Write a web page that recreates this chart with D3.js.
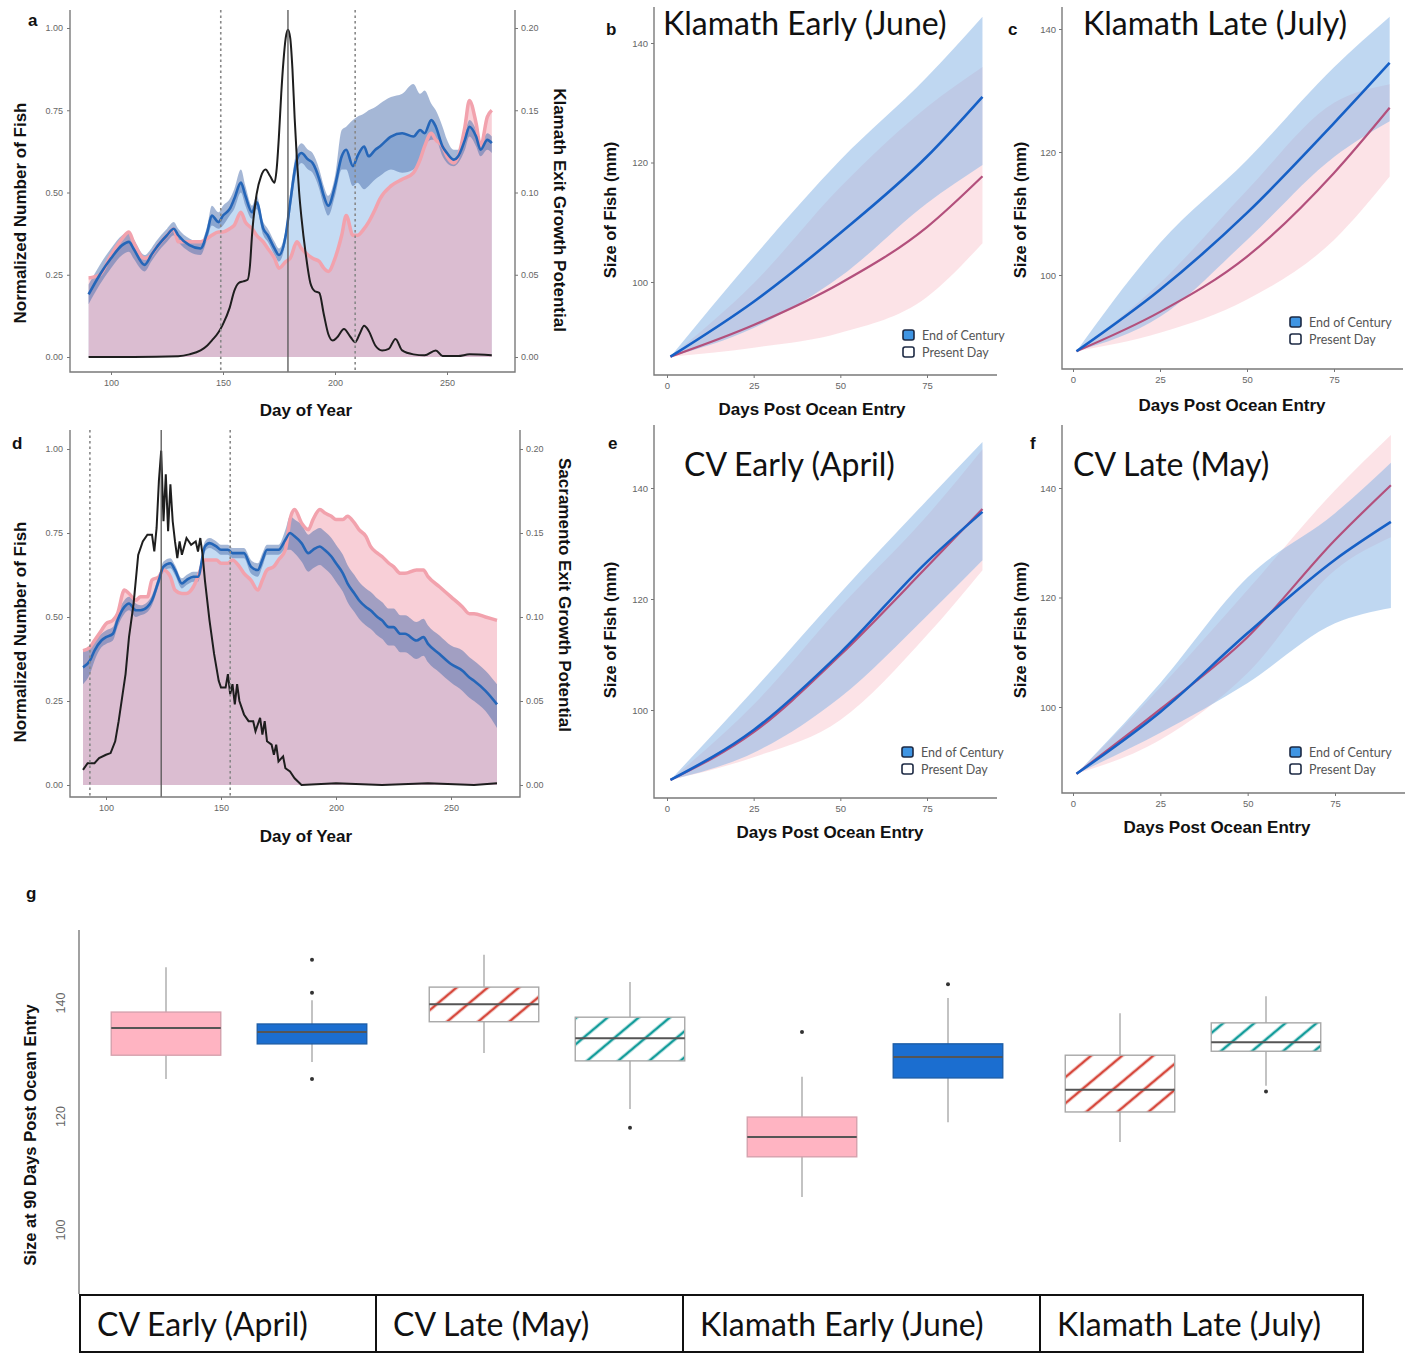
<!DOCTYPE html>
<html>
<head>
<meta charset="utf-8">
<script src="https://d3js.org/d3.v7.min.js"></script>
<style>
  body { margin: 0; background: #fff; }
  svg { display: block; }
  .tick text { fill: #666; font-family: "Liberation Sans", Arial, sans-serif; }
  .tick line { stroke: #777; }
</style>
</head>
<body>
<svg id="fig" width="1419" height="1353"></svg>
<script>
// ---------- panel a : Klamath, day of year ----------
var aDays = [90,95,100,105,108,110,115,118,120,125,128,130,135,140,143,145,148,150,153,155,158,160,163,165,168,170,173,175,178,180,183,185,188,190,193,195,197,200,203,205,208,210,213,215,218,220,225,230,235,238,240,243,245,248,250,253,255,258,260,263,265,268,270];
var aPresent = [.24,.25,.31,.36,.38, .35,.30,.31,.33,.37, .39,.35,.35,.35,.36, .37,.38,.38,.39,.40, .44,.41,.39,.37,.35, .33,.30,.27,.29,.30, .35,.33,.31,.30,.29, .27,.26,.30,.37,.43, .37,.37,.39,.41,.45, .48,.52,.54,.56,.60, .64,.68,.66,.64,.61, .59,.61,.70,.78,.71, .64,.73,.75];
var aEoc = [.19,.25,.30,.34,.35, .33,.28,.31,.33,.37, .39,.37,.34,.33,.38, .43,.41,.43,.45,.48, .53,.49,.44,.47,.39, .37,.33,.31,.37,.47, .60,.62,.60,.59,.54, .49,.46,.52,.61,.63, .58,.61,.64,.61,.63, .64,.67,.68,.67,.69, .68,.72,.70,.64,.62, .60,.61,.66,.70,.67, .63,.66,.65];
var aEocLo = [.16,.22,.27,.31,.32, .30,.26,.29,.31,.35, .37,.35,.32,.31,.36, .40,.39,.40,.43,.45, .50,.46,.42,.45,.37, .35,.31,.29,.35,.44, .57,.59,.57,.56,.51, .46,.43,.49,.57,.57, .52,.53,.51,.52,.54, .55,.57,.56,.57,.60, .64,.66,.66,.61,.59, .58,.59,.63,.67,.64, .61,.63,.62];
var aEocHi = [.22,.28,.33,.37,.38, .36,.31,.33,.35,.39, .41,.39,.36,.35,.40, .46,.44,.46,.48,.51, .57,.52,.46,.49,.41, .39,.35,.33,.39,.50, .63,.65,.63,.62,.57, .52,.49,.55,.69,.70, .72,.73,.74,.75,.76, .77,.79,.80,.83,.80, .81,.77,.75,.70,.66, .63,.63,.68,.72,.69, .65,.68,.67];
var aGrowthDays = [90,110,130,135,140,143,145,148,150,153,155,157,159,161,162,163,165,167,169,171,173,174,175,176,177,178,179,180,181,182,183,184,185,187,189,191,193,195,197,199,201,204,207,209,211,213,215,218,221,224,227,230,235,240,245,248,255,260,270];
var aGrowth = [0,0,0.0005,0.0016,0.004, 0.007,0.010,0.015,0.020,0.030, 0.040,0.045,0.046,0.047,0.055, 0.075,0.099,0.110,0.114,0.110, 0.106,0.115,0.135,0.160,0.180, 0.194,0.199,0.194,0.175,0.145, 0.120,0.100,0.085,0.062,0.045, 0.040,0.039,0.026,0.014,0.010, 0.012,0.017,0.012,0.009,0.014, 0.019,0.016,0.007,0.004,0.005, 0.011,0.004,0.0016,0.001,0.004, 0.0006,0.0006,0.0016,0.001];
var aMarks = [149, 179, 209];

// ---------- panel d : Sacramento, day of year ----------
var dDays = [90,93,95,98,100,103,105,108,110,113,115,118,120,123,125,128,130,133,135,138,140,143,145,148,150,153,155,158,160,163,166,168,170,173,175,178,180,182,185,188,190,193,195,198,200,203,205,208,210,213,215,218,220,223,225,228,230,235,238,240,245,250,255,258,260,265,270];
var dPresent = [.40,.41,.43,.46,.48, .49,.51,.58,.57,.55, .56,.56,.61,.62,.64, .62,.58,.57,.57,.59, .62,.67,.67,.67,.66, .66,.67,.65,.63,.61, .58,.61,.64,.65,.67, .70,.79,.82,.78,.76, .79,.82,.81,.80,.79, .79,.80,.78,.76,.74, .71,.69,.68,.66,.65, .63,.63,.64,.64,.62, .59,.56,.53,.51,.51, .50,.49];
var dEoc = [.35,.37,.40,.43,.44, .45,.49,.53,.54,.52, .52,.53,.55,.61,.65, .66,.64,.60,.61,.62, .62,.71,.72,.71,.70, .70,.69,.69,.69,.65, .64,.67,.70,.70,.70, .73,.75,.74,.72,.69, .70,.71,.70,.68,.66, .63,.60,.57,.55,.53, .52,.50,.49,.47,.47, .45,.45,.43,.44,.42, .39,.36,.34,.32,.31, .28,.24];
var dEocLo = [.30,.33,.37,.41,.42, .43,.47,.51,.52,.50, .505,.515,.535,.595,.635, .645,.625,.585,.595,.605, .605,.695,.705,.695,.685, .685,.675,.675,.675,.63, .62,.65,.685,.685,.685, .70,.70,.69,.665,.635, .645,.655,.645,.625,.605, .575,.545,.515,.495,.475, .465,.445,.435,.415,.415, .395,.395,.375,.385,.365, .335,.305,.28,.26,.25, .22,.17];
var dEocHi = [.40,.41,.43,.45,.46, .47,.51,.55,.56,.54, .535,.545,.565,.625,.665, .675,.655,.615,.625,.635, .635,.725,.735,.725,.715, .715,.705,.705,.705,.67, .66,.69,.715,.715,.715, .76,.80,.79,.775,.745, .755,.765,.755,.735,.715, .685,.655,.625,.605,.585, .575,.555,.545,.525,.525, .505,.505,.485,.495,.475, .445,.415,.40,.38,.37, .34,.30];
var dGrowthDays = [90,92,95,97,100,102,104,105.5,107,108.5,110,112,114,116,118,120,121,122,123,124,125,126,127,128,129,130,131,132,133,135,137,139,140,141,142,143,145,147,149,150,152,153,154,155,156,157,158,160,162,164,165,167,168,169,170,172,173,174,175,177,178,180,182,185,200,220,240,260,270];
var dGrowth = [0.009,0.013,0.013,0.016,0.018, 0.019,0.026,0.038,0.052,0.066, 0.088,0.108,0.137,0.145,0.149, 0.149,0.139,0.153,0.181,0.199, 0.157,0.185,0.151,0.179,0.157, 0.145,0.135,0.145,0.137,0.147, 0.143,0.145,0.139,0.147,0.137, 0.122,0.098,0.078,0.062,0.058, 0.058,0.066,0.054,0.060,0.048, 0.060,0.050,0.042,0.038,0.038, 0.032,0.040,0.030,0.038,0.026, 0.024,0.018,0.024,0.014,0.017, 0.010,0.008,0.004,0.000,0.001, 0.000,0.001,0.000,0.001];
var dMarks = [93, 124, 154];

// ---------- panels b, c, e, f : size after ocean entry ----------
var sizeDays = [1, 25, 50, 75, 91];
var bEoc = [87.5, 96.7, 108.2, 121.0, 131.0];
var bEocLo = [87.5, 92.3, 100.9, 113.2, 119.6];
var bEocHi = [87.5, 104.2, 120.4, 134.3, 144.4];
var bPres = [87.5, 92.8, 99.8, 109.2, 117.7];
var bPresLo = [87.5, 89.0, 91.5, 97.5, 106.5];
var bPresHi = [87.5, 99.8, 115.9, 129.3, 136.0];

var cEoc = [87.6, 97.6, 110.1, 124.7, 134.5];
var cEocLo = [87.6, 93.2, 105.7, 119.2, 125.0];
var cEocHi = [87.6, 105.2, 118.7, 133.8, 142.0];
var cPres = [87.6, 94.0, 103.0, 116.6, 127.2];
var cPresLo = [87.6, 90.6, 96.0, 105.7, 116.0];
var cPresHi = [87.6, 98.7, 113.8, 128.0, 131.0];

var eEoc = [87.4, 96.4, 110.3, 126.7, 135.7];
var eEocLo = [87.4, 92.3, 102.3, 117.0, 127.0];
var eEocHi = [87.4, 103.6, 121.1, 137.8, 148.3];
var ePres = [87.4, 96.0, 109.9, 125.8, 136.2];
var ePresLo = [87.4, 91.5, 98.2, 113.5, 125.2];
var ePresHi = [87.4, 101.0, 118.6, 135.0, 147.0];

var fEoc = [87.8, 99.1, 113.5, 126.9, 133.8];
var fEocLo = [87.8, 95.3, 104.4, 115.3, 118.1];
var fEocHi = [87.8, 104.4, 123.7, 135.4, 144.6];
var fPres = [87.8, 99.6, 112.8, 130.5, 140.5];
var fPresLo = [87.8, 94.0, 106.2, 125.0, 131.0];
var fPresHi = [87.8, 103.6, 121.4, 139.6, 149.7];

var legendLabels = ["End of Century", "Present Day"];

// ---------- panel g : size at 90 days ----------
var boxGroups = ["CV Early (April)", "CV Late (May)", "Klamath Early (June)", "Klamath Late (July)"];
var boxScenarios = ["Present Day", "End of Century"];
var boxLow  = [126.6, 129.6, 131.2, 121.3, 105.8, 119.0, 115.5, 125.4];
var boxQ1   = [130.8, 132.8, 136.7, 129.8, 112.9, 126.8, 120.8, 131.5];
var boxMed  = [135.6, 134.9, 139.8, 133.8, 116.4, 130.5, 124.7, 133.1];
var boxQ3   = [138.4, 136.3, 142.8, 137.5, 119.9, 132.8, 130.8, 136.5];
var boxHigh = [146.3, 140.5, 148.5, 143.7, 127.0, 140.9, 138.2, 141.2];
var boxOut  = [[], [147.6, 141.8, 126.6], [], [118.0], [134.9], [143.3], [], [124.4]];

var svg = d3.select("#fig");
var defs = svg.append("defs");
var BOLD = "'Liberation Sans', Arial, sans-serif";
var TITLE = "Lato, 'Open Sans', sans-serif";

function hatch(id, color) {
  var p = defs.append("pattern").attr("id", id)
    .attr("patternUnits", "userSpaceOnUse")
    .attr("width", 20).attr("height", 20)
    .attr("patternTransform", "rotate(-40)");
  p.append("rect").attr("width", 20).attr("height", 20).attr("fill", "#fff");
  p.append("line").attr("x1", 0).attr("x2", 20).attr("y1", 10).attr("y2", 10)
    .attr("stroke", color).attr("stroke-width", 2.6);
}
hatch("hRed", "#d6483c");
hatch("hTeal", "#139c9a");

function text(x, y, s, size, opts) {
  opts = opts || {};
  var t = svg.append("text").attr("x", x).attr("y", y).text(s)
    .attr("font-size", size)
    .attr("font-family", opts.family || BOLD)
    .attr("font-weight", opts.weight || "bold")
    .attr("fill", opts.fill || "#111")
    .attr("text-anchor", opts.anchor || "start");
  if (opts.rotate) {
    t.attr("x", 0).attr("y", 0)
      .attr("text-anchor", "middle")
      .attr("dominant-baseline", "middle")
      .attr("transform", "translate(" + x + "," + y + ") rotate(" + opts.rotate + ")");
  }
  return t;
}

function styleAxis(sel, size) {
  sel.select(".domain").remove();
  sel.selectAll(".tick text").attr("font-size", size);
}

// ---------- day-of-year panels ----------
function timePanel(o) {
  var g = svg.append("g");
  var x = d3.scaleLinear().domain([100, 250]).range([o.x100, o.x250]);
  var y = d3.scaleLinear().domain([0, 1]).range([o.y0, o.y1]);
  var y2 = d3.scaleLinear().domain([0, 0.2]).range([o.y0, o.y1]);
  var rows = o.days.map(function(d, i) {
    return { d: d, p: o.pres[i], e: o.eoc[i], lo: o.lo[i], hi: o.hi[i] };
  });
  var cv = d3.curveMonotoneX;
  function fillTo(k) {
    return d3.area().x(function(r) { return x(r.d); }).y0(y(0))
      .y1(function(r) { return y(r[k]); }).curve(cv);
  }
  function lineOf(k) {
    return d3.line().x(function(r) { return x(r.d); })
      .y(function(r) { return y(r[k]); }).curve(cv);
  }
  g.append("path").datum(rows).attr("d", fillTo("e")).attr("fill", "#c4dbf3");
  g.append("path").datum(rows).attr("d", fillTo("p")).attr("fill", "#f2a0b0").attr("fill-opacity", 0.5);
  g.append("path").datum(rows)
    .attr("d", d3.area().x(function(r) { return x(r.d); })
      .y0(function(r) { return y(r.lo); }).y1(function(r) { return y(r.hi); }).curve(cv))
    .attr("fill", "#4c6fae").attr("fill-opacity", 0.5);
  g.append("path").datum(rows).attr("d", lineOf("p"))
    .attr("fill", "none").attr("stroke", "#f2a2ad").attr("stroke-width", 3.5);
  g.append("path").datum(rows).attr("d", lineOf("e"))
    .attr("fill", "none").attr("stroke", "#2566b8").attr("stroke-width", 2.6);

  g.append("path").datum(o.gDays)
    .attr("d", d3.line().x(function(d) { return x(d); })
      .y(function(d, i) { return y2(o.growth[i]); }).curve(o.gCurve))
    .attr("fill", "none").attr("stroke", "#1e1e1e").attr("stroke-width", 2);

  g.selectAll("line.mark").data(o.marks).join("line").attr("class", "mark")
    .attr("x1", function(d) { return x(d); }).attr("x2", function(d) { return x(d); })
    .attr("y1", o.top).attr("y2", o.bottom)
    .attr("stroke", function(d, i) { return i === 1 ? "#555" : "#888"; })
    .attr("stroke-width", function(d, i) { return i === 1 ? 1.3 : 1.6; })
    .attr("stroke-dasharray", function(d, i) { return i === 1 ? null : "2.5,3"; });

  g.append("path")
    .attr("d", "M" + o.left + "," + o.top + "V" + o.bottom + "H" + o.right + "V" + o.top)
    .attr("fill", "none").attr("stroke", "#7a7a7a").attr("stroke-width", 1.4);

  g.append("g").attr("transform", "translate(0," + o.bottom + ")")
    .call(d3.axisBottom(x).tickValues([100, 150, 200, 250]).tickSize(3).tickPadding(5))
    .call(styleAxis, 9);
  g.append("g").attr("transform", "translate(" + o.left + ",0)")
    .call(d3.axisLeft(y).tickValues([0, 0.25, 0.5, 0.75, 1]).tickFormat(d3.format(".2f")).tickSize(3).tickPadding(4))
    .call(styleAxis, 9);
  g.append("g").attr("transform", "translate(" + o.right + ",0)")
    .call(d3.axisRight(y2).tickValues([0, 0.05, 0.1, 0.15, 0.2]).tickFormat(d3.format(".2f")).tickSize(3).tickPadding(3))
    .call(styleAxis, 9);
}

timePanel({ days: aDays, pres: aPresent, eoc: aEoc, lo: aEocLo, hi: aEocHi,
  gDays: aGrowthDays, growth: aGrowth, gCurve: d3.curveMonotoneX, marks: aMarks,
  left: 70, right: 515, top: 10, bottom: 372, x100: 111, x250: 447, y0: 357, y1: 28 });
timePanel({ days: dDays, pres: dPresent, eoc: dEoc, lo: dEocLo, hi: dEocHi,
  gDays: dGrowthDays, growth: dGrowth, gCurve: d3.curveLinear, marks: dMarks,
  left: 70, right: 520, top: 430, bottom: 797, x100: 106, x250: 451, y0: 785, y1: 449 });

text(28, 26, "a", 17);
text(22, 213, "Normalized Number of Fish", 17, { rotate: -90 });
text(558, 210, "Klamath Exit Growth Potential", 17, { rotate: 90 });
text(306, 416, "Day of Year", 17, { anchor: "middle" });

text(12, 449, "d", 17);
text(22, 632, "Normalized Number of Fish", 17, { rotate: -90 });
text(563, 595, "Sacramento Exit Growth Potential", 17, { rotate: 90 });
text(306, 842, "Day of Year", 17, { anchor: "middle" });

// ---------- size panels ----------
function sizePanel(o) {
  var g = svg.append("g");
  var x = d3.scaleLinear().domain([0, 75]).range([o.x0, o.x75]);
  var y = d3.scaleLinear().domain([100, 140]).range([o.y100, o.y140]);
  var rows = sizeDays.map(function(d, i) {
    return { d: d, e: o.eoc[i], elo: o.eocLo[i], ehi: o.eocHi[i],
             p: o.pres[i], plo: o.presLo[i], phi: o.presHi[i] };
  });
  var cv = d3.curveMonotoneX;
  function band(lo, hi) {
    return d3.area().x(function(r) { return x(r.d); })
      .y0(function(r) { return y(r[lo]); }).y1(function(r) { return y(r[hi]); }).curve(cv);
  }
  function lineOf(k) {
    return d3.line().x(function(r) { return x(r.d); }).y(function(r) { return y(r[k]); }).curve(cv);
  }
  g.append("path").datum(rows).attr("d", band("plo", "phi")).attr("fill", "#f5a9b6").attr("fill-opacity", 0.33);
  g.append("path").datum(rows).attr("d", band("elo", "ehi")).attr("fill", "#8ab6e6").attr("fill-opacity", 0.55);
  g.append("path").datum(rows).attr("d", lineOf("p"))
    .attr("fill", "none").attr("stroke", "#b3507c").attr("stroke-width", 2.2);
  g.append("path").datum(rows).attr("d", lineOf("e"))
    .attr("fill", "none").attr("stroke", "#1660c6").attr("stroke-width", 2.6);

  g.append("path")
    .attr("d", "M" + o.left + "," + o.top + "V" + o.bottom + "H" + o.right)
    .attr("fill", "none").attr("stroke", "#7a7a7a").attr("stroke-width", 1.4);
  g.append("g").attr("transform", "translate(0," + o.bottom + ")")
    .call(d3.axisBottom(x).tickValues([0, 25, 50, 75]).tickSize(3).tickPadding(4))
    .call(styleAxis, 9.5);
  g.append("g").attr("transform", "translate(" + o.left + ",0)")
    .call(d3.axisLeft(y).tickValues([100, 120, 140]).tickSize(3).tickPadding(3))
    .call(styleAxis, 9.5);

  var lg = g.selectAll("g.lg").data(legendLabels).join("g").attr("class", "lg")
    .attr("transform", function(d, i) { return "translate(" + o.lgx + "," + (o.lgy + i * 17) + ")"; });
  lg.append("rect").attr("width", 11).attr("height", 10).attr("rx", 2)
    .attr("fill", function(d, i) { return i === 0 ? "#3f95e3" : "#fff"; })
    .attr("stroke", "#1d2a44").attr("stroke-width", 1.6);
  lg.append("text").attr("x", 19).attr("y", 9.5).text(function(d) { return d; })
    .attr("font-size", 12.5).attr("font-family", TITLE).attr("fill", "#555");

  text(o.titleX, o.titleY, o.title, 32, { family: TITLE, weight: "normal", fill: "#111" });
  text(o.letterX, o.letterY, o.letter, 17);
  text(o.ylabX, o.ylabY, "Size of Fish (mm)", 16.5, { rotate: -90 });
  text(o.xlabX, o.xlabY, "Days Post Ocean Entry", 17, { anchor: "middle" });
}

sizePanel({ eoc: bEoc, eocLo: bEocLo, eocHi: bEocHi, pres: bPres, presLo: bPresLo, presHi: bPresHi,
  left: 654, right: 997, top: 7, bottom: 375, x0: 667, x75: 927, y100: 282, y140: 43,
  lgx: 903, lgy: 330, title: "Klamath Early (June)", titleX: 663, titleY: 35,
  letter: "b", letterX: 606, letterY: 35, ylabX: 612, ylabY: 210, xlabX: 812, xlabY: 415 });
sizePanel({ eoc: cEoc, eocLo: cEocLo, eocHi: cEocHi, pres: cPres, presLo: cPresLo, presHi: cPresHi,
  left: 1062, right: 1403, top: 7, bottom: 369, x0: 1073, x75: 1334, y100: 275, y140: 29,
  lgx: 1290, lgy: 317, title: "Klamath Late (July)", titleX: 1083, titleY: 35,
  letter: "c", letterX: 1008, letterY: 35, ylabX: 1022, ylabY: 210, xlabX: 1232, xlabY: 411 });
sizePanel({ eoc: eEoc, eocLo: eEocLo, eocHi: eEocHi, pres: ePres, presLo: ePresLo, presHi: ePresHi,
  left: 654, right: 997, top: 425, bottom: 798, x0: 667, x75: 927, y100: 710, y140: 488,
  lgx: 902, lgy: 747, title: "CV Early (April)", titleX: 684, titleY: 476,
  letter: "e", letterX: 608, letterY: 449, ylabX: 612, ylabY: 630, xlabX: 830, xlabY: 838 });
sizePanel({ eoc: fEoc, eocLo: fEocLo, eocHi: fEocHi, pres: fPres, presLo: fPresLo, presHi: fPresHi,
  left: 1062, right: 1405, top: 425, bottom: 793, x0: 1073, x75: 1335, y100: 707, y140: 488,
  lgx: 1290, lgy: 747, title: "CV Late (May)", titleX: 1073, titleY: 476,
  letter: "f", letterX: 1030, letterY: 449, ylabX: 1022, ylabY: 630, xlabX: 1217, xlabY: 833 });

// ---------- panel g : boxplots ----------
(function() {
  var gy = d3.scaleLinear().domain([100, 140]).range([1230, 1003]);
  var gx = d3.scaleBand().domain(boxGroups).range([80, 1352]);
  var inner = d3.scaleBand().domain(boxScenarios).range([-146, 146]);
  var bw = inner.bandwidth() * 0.75;
  var boxes = [];
  boxGroups.forEach(function(grp, gi) {
    boxScenarios.forEach(function(sc, si) {
      var k = gi * 2 + si;
      boxes.push({ grp: grp, sc: sc, gi: gi, si: si, lo: boxLow[k], q1: boxQ1[k], med: boxMed[k],
                   q3: boxQ3[k], hi: boxHigh[k], out: boxOut[k] });
    });
  });
  function cx(b) { return gx(b.grp) + gx.bandwidth() / 2 + inner(b.sc) + inner.bandwidth() / 2; }
  function fillOf(b) {
    if (b.gi % 2 === 0) return b.si === 0 ? "#ffb4c2" : "#1b6ed0";
    return b.si === 0 ? "url(#hRed)" : "url(#hTeal)";
  }
  function strokeOf(b) {
    if (b.gi % 2 === 0) return b.si === 0 ? "#d6a1ad" : "#1d5ea8";
    return "#a8a8a8";
  }
  var g = svg.append("g");
  var bx = g.selectAll("g.box").data(boxes).join("g").attr("class", "box");
  bx.append("line").attr("x1", cx).attr("x2", cx)
    .attr("y1", function(b) { return gy(b.hi); }).attr("y2", function(b) { return gy(b.lo); })
    .attr("stroke", "#aaa").attr("stroke-width", 1.4);
  bx.append("rect").attr("x", function(b) { return cx(b) - bw / 2; }).attr("width", bw)
    .attr("y", function(b) { return gy(b.q3); })
    .attr("height", function(b) { return gy(b.q1) - gy(b.q3); })
    .attr("fill", fillOf).attr("stroke", strokeOf).attr("stroke-width", 1.4);
  bx.append("line").attr("x1", function(b) { return cx(b) - bw / 2; }).attr("x2", function(b) { return cx(b) + bw / 2; })
    .attr("y1", function(b) { return gy(b.med); }).attr("y2", function(b) { return gy(b.med); })
    .attr("stroke", "#555").attr("stroke-width", 2);
  bx.selectAll("circle").data(function(b) { return b.out.map(function(v) { return { b: b, v: v }; }); })
    .join("circle").attr("cx", function(o) { return cx(o.b); }).attr("cy", function(o) { return gy(o.v); })
    .attr("r", 2).attr("fill", "#333");

  g.append("line").attr("x1", 79).attr("x2", 79).attr("y1", 930).attr("y2", 1294)
    .attr("stroke", "#7a7a7a").attr("stroke-width", 1.4);
  g.selectAll("text.gt").data([100, 120, 140]).join("text").attr("class", "gt")
    .attr("transform", function(d) { return "translate(62," + gy(d) + ") rotate(-90)"; })
    .attr("text-anchor", "middle").attr("dominant-baseline", "middle")
    .attr("font-size", 12.5).attr("font-family", BOLD).attr("fill", "#666").text(function(d) { return d; });

  // category table under the boxes
  var cellEdges = [80, 376, 683, 1040, 1363];
  var cells = boxGroups.map(function(grp, i) { return { grp: grp, x0: cellEdges[i], x1: cellEdges[i + 1] }; });
  var tb = g.selectAll("g.cell").data(cells).join("g").attr("class", "cell");
  tb.append("rect").attr("x", function(c) { return c.x0; }).attr("y", 1295)
    .attr("width", function(c) { return c.x1 - c.x0; }).attr("height", 57)
    .attr("fill", "#fff").attr("stroke", "#111").attr("stroke-width", 2);
  tb.append("text").attr("x", function(c) { return c.x0 + 17; }).attr("y", 1336)
    .attr("font-size", 32).attr("font-family", TITLE).attr("fill", "#111")
    .text(function(c) { return c.grp; });
})();

text(26, 899, "g", 17);
text(32, 1135, "Size at 90 Days Post Ocean Entry", 16.5, { rotate: -90 });
</script>
</body>
</html>
